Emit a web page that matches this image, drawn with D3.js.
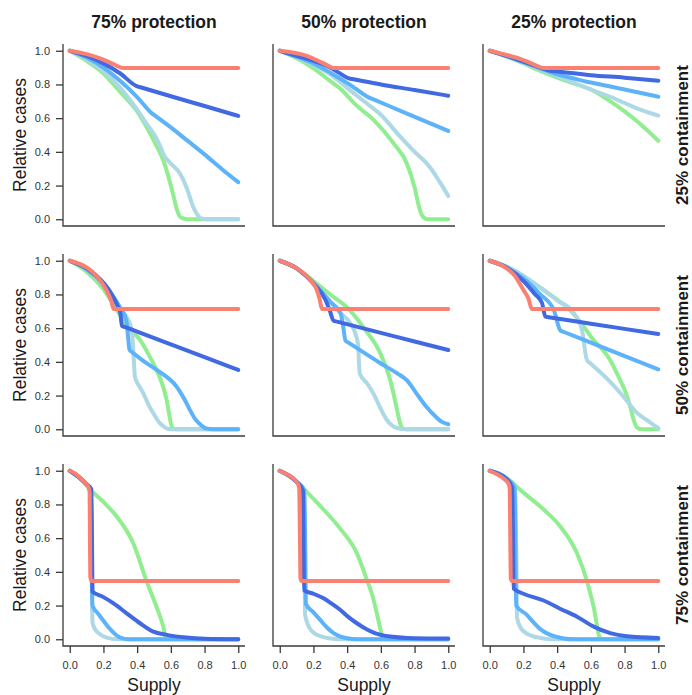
<!DOCTYPE html>
<html>
<head>
<meta charset="utf-8">
<script src="https://cdn.jsdelivr.net/npm/d3@7/dist/d3.min.js"></script>
<style>
  html, body { margin: 0; padding: 0; background: #fff; }
  svg { display: block; }
</style>
</head>
<body>
<script>
// ---------- DATA ----------
const protectionLabels = ["75% protection", "50% protection", "25% protection"];
const containmentLabels = ["25% containment", "50% containment", "75% containment"];
const seriesNames = ["green", "lightblue", "medblue", "darkblue", "red"];
const xTicks = [0, 0.2, 0.4, 0.6, 0.8, 1.0];
const yTicks = [0, 0.2, 0.4, 0.6, 0.8, 1.0];

// Row 1: 25% containment
const p75c25_green = [[0,1],[0.1,0.94],[0.2,0.865],[0.3,0.755],[0.4,0.64],[0.44,0.575],[0.5,0.465],[0.555,0.35],[0.6,0.2],[0.62,0.12],[0.64,0.045],[0.66,0.01],[0.7,0],[1,0]];
const p75c25_lightblue = [[0,1],[0.1,0.95],[0.2,0.88],[0.3,0.78],[0.4,0.65],[0.44,0.59],[0.52,0.47],[0.565,0.37],[0.6,0.33],[0.655,0.27],[0.7,0.17],[0.73,0.08],[0.755,0.03],[0.78,0.005],[0.82,0],[1,0]];
const p75c25_medblue = [[0,1],[0.1,0.96],[0.2,0.9],[0.3,0.82],[0.4,0.725],[0.486,0.63],[0.51,0.612],[0.6,0.545],[0.7,0.465],[0.8,0.385],[0.9,0.3],[1,0.22]];
const p75c25_darkblue = [[0,1],[0.1,0.97],[0.2,0.925],[0.3,0.865],[0.397,0.79],[0.43,0.7803],[0.6,0.73],[0.8,0.672],[1,0.613]];
const p75c25_red = [[0,1],[0.1,0.98],[0.18,0.955],[0.26,0.92],[0.318,0.897],[1,0.897]];

const p50c25_green = [[0,1],[0.1,0.955],[0.2,0.895],[0.3,0.82],[0.36,0.775],[0.45,0.68],[0.557,0.59],[0.676,0.45],[0.755,0.33],[0.8,0.19],[0.83,0.06],[0.85,0.015],[0.88,0],[1,0]];
const p50c25_lightblue = [[0,1],[0.1,0.96],[0.2,0.915],[0.3,0.86],[0.4,0.78],[0.5,0.7],[0.6,0.62],[0.715,0.49],[0.79,0.41],[0.89,0.31],[0.95,0.22],[1,0.138]];
const p50c25_medblue = [[0,1],[0.1,0.965],[0.2,0.925],[0.3,0.87],[0.42,0.796],[0.528,0.723],[0.56,0.7095],[0.755,0.627],[1,0.524]];
const p50c25_darkblue = [[0,1],[0.1,0.97],[0.2,0.94],[0.3,0.9],[0.35,0.87],[0.41,0.836],[0.44,0.8303],[0.6,0.8],[0.8,0.767],[1,0.733]];
const p50c25_red = [[0,1],[0.16,0.97],[0.26,0.925],[0.324,0.897],[1,0.897]];

const p25c25_green = [[0,1],[0.1,0.965],[0.2,0.925],[0.3,0.88],[0.4,0.84],[0.5,0.805],[0.6,0.77],[0.7,0.71],[0.8,0.64],[0.9,0.56],[1,0.466]];
const p25c25_lightblue = [[0,1],[0.1,0.968],[0.2,0.93],[0.3,0.89],[0.4,0.85],[0.5,0.81],[0.6,0.77],[0.715,0.727],[0.8,0.69],[0.873,0.658],[1,0.615]];
const p25c25_medblue = [[0,1],[0.1,0.968],[0.2,0.932],[0.3,0.895],[0.4,0.86],[0.5,0.835],[0.577,0.816],[0.6,0.8113],[0.8,0.77],[1,0.727]];
const p25c25_darkblue = [[0,1],[0.1,0.97],[0.2,0.935],[0.3,0.9],[0.36,0.881],[0.39,0.8777],[0.6,0.855],[0.8,0.84],[1,0.822]];
const p25c25_red = [[0,1],[0.1,0.975],[0.2,0.945],[0.27,0.915],[0.32,0.897],[1,0.897]];

// Row 2: 50% containment
const p75c50_green = [[0,1],[0.1,0.935],[0.2,0.83],[0.26,0.74],[0.3,0.675],[0.35,0.6],[0.417,0.53],[0.47,0.44],[0.516,0.35],[0.555,0.25],[0.575,0.174],[0.59,0.09],[0.6,0.035],[0.61,0.008],[0.63,0],[1,0]];
const p75c50_lightblue = [[0,1],[0.1,0.95],[0.2,0.855],[0.3,0.72],[0.368,0.59],[0.378,0.45],[0.387,0.31],[0.41,0.26],[0.437,0.213],[0.47,0.14],[0.496,0.095],[0.535,0.036],[0.57,0.008],[0.6,0],[1,0]];
const p75c50_medblue = [[0,1],[0.1,0.95],[0.2,0.86],[0.3,0.72],[0.335,0.65],[0.345,0.56],[0.355,0.47],[0.37,0.458],[0.43,0.41],[0.516,0.352],[0.634,0.253],[0.68,0.18],[0.713,0.115],[0.745,0.06],[0.773,0.03],[0.81,0.005],[0.85,0],[1,0]];
const p75c50_darkblue = [[0,1],[0.1,0.955],[0.2,0.87],[0.25,0.8],[0.28,0.74],[0.3,0.69],[0.31,0.613],[0.33,0.6054],[0.6,0.5034],[0.8,0.4278],[1,0.352]];
const p75c50_red = [[0,1],[0.1,0.96],[0.18,0.885],[0.22,0.82],[0.245,0.765],[0.262,0.713],[1,0.713]];

const p50c50_green = [[0,1],[0.1,0.955],[0.2,0.88],[0.3,0.8],[0.41,0.713],[0.5,0.6],[0.597,0.45],[0.656,0.29],[0.68,0.19],[0.696,0.115],[0.715,0.035],[0.73,0.005],[0.75,0],[1,0]];
const p50c50_lightblue = [[0,1],[0.1,0.955],[0.2,0.87],[0.3,0.76],[0.35,0.7],[0.44,0.59],[0.465,0.5],[0.47,0.4],[0.475,0.33],[0.52,0.27],[0.557,0.21],[0.6,0.12],[0.636,0.055],[0.67,0.02],[0.7,0.006],[0.75,0],[1,0]];
const p50c50_medblue = [[0,1],[0.1,0.955],[0.2,0.87],[0.3,0.755],[0.36,0.69],[0.375,0.62],[0.39,0.526],[0.41,0.513],[0.5,0.455],[0.6,0.39],[0.7,0.33],[0.755,0.29],[0.82,0.2],[0.87,0.134],[0.92,0.08],[0.96,0.045],[1,0.03]];
const p50c50_darkblue = [[0,1],[0.1,0.955],[0.2,0.865],[0.27,0.77],[0.295,0.71],[0.32,0.644],[0.34,0.6389],[0.6,0.5723],[0.8,0.5211],[1,0.47]];
const p50c50_red = [[0,1],[0.1,0.955],[0.19,0.875],[0.22,0.826],[0.237,0.77],[0.251,0.713],[1,0.713]];

const p25c50_green = [[0,1],[0.1,0.965],[0.2,0.91],[0.3,0.84],[0.4,0.77],[0.47,0.713],[0.55,0.62],[0.6,0.55],[0.715,0.41],[0.77,0.3],[0.81,0.21],[0.835,0.13],[0.854,0.055],[0.873,0.012],[0.9,0],[1,0]];
const p25c50_lightblue = [[0,1],[0.1,0.965],[0.2,0.91],[0.3,0.84],[0.4,0.765],[0.5,0.688],[0.547,0.59],[0.577,0.41],[0.6,0.3887],[0.696,0.3],[0.81,0.174],[0.87,0.1],[0.93,0.055],[1,0.006]];
const p25c50_medblue = [[0,1],[0.1,0.96],[0.2,0.895],[0.3,0.8],[0.38,0.708],[0.42,0.585],[0.44,0.5771],[0.7,0.4745],[1,0.356]];
const p25c50_darkblue = [[0,1],[0.1,0.96],[0.2,0.88],[0.27,0.8],[0.31,0.75],[0.33,0.668],[0.35,0.6649],[0.6,0.6265],[0.8,0.5958],[1,0.565]];
const p25c50_red = [[0,1],[0.1,0.955],[0.15,0.91],[0.2,0.826],[0.23,0.775],[0.25,0.713],[1,0.713]];

// Row 3: 75% containment
const p75c75_green = [[0,1],[0.05,0.965],[0.13,0.88],[0.2,0.815],[0.28,0.727],[0.377,0.57],[0.456,0.345],[0.516,0.19],[0.555,0.075],[0.57,0.01],[0.59,0],[1,0]];
const p75c75_lightblue = [[0,1],[0.05,0.965],[0.1,0.92],[0.125,0.89],[0.13,0.4],[0.135,0.1],[0.15,0.06],[0.18,0.03],[0.22,0.01],[0.28,0],[1,0]];
const p75c75_medblue = [[0,1],[0.05,0.965],[0.1,0.92],[0.125,0.89],[0.13,0.5],[0.135,0.2],[0.17,0.15],[0.2,0.11],[0.24,0.06],[0.27,0.03],[0.3,0.01],[0.35,0],[1,0]];
const p75c75_darkblue = [[0,1],[0.05,0.965],[0.1,0.92],[0.128,0.89],[0.132,0.6],[0.135,0.283],[0.2,0.25],[0.26,0.213],[0.338,0.154],[0.417,0.095],[0.496,0.045],[0.575,0.026],[0.69,0.01],[0.8,0.003],[1,0]];
const p75c75_red = [[0,1],[0.03,0.985],[0.06,0.96],[0.09,0.93],[0.11,0.905],[0.118,0.87],[0.12,0.6],[0.122,0.37],[0.13,0.345],[1,0.345]];

const p50c75_green = [[0,1],[0.1,0.935],[0.15,0.885],[0.26,0.77],[0.36,0.655],[0.458,0.51],[0.518,0.35],[0.55,0.26],[0.577,0.15],[0.595,0.07],[0.607,0.02],[0.62,0],[1,0]];
const p50c75_lightblue = [[0,1],[0.1,0.935],[0.145,0.885],[0.148,0.4],[0.15,0.15],[0.17,0.08],[0.2,0.04],[0.25,0.015],[0.3,0.004],[0.35,0],[1,0]];
const p50c75_medblue = [[0,1],[0.1,0.935],[0.145,0.885],[0.152,0.5],[0.155,0.21],[0.2,0.16],[0.24,0.115],[0.28,0.07],[0.32,0.036],[0.36,0.015],[0.4,0.006],[0.45,0],[1,0]];
const p50c75_darkblue = [[0,1],[0.05,0.975],[0.1,0.935],[0.138,0.88],[0.142,0.5],[0.145,0.29],[0.2,0.27],[0.26,0.243],[0.31,0.21],[0.36,0.174],[0.41,0.13],[0.458,0.095],[0.51,0.062],[0.557,0.04],[0.656,0.016],[0.8,0.006],[1,0.004]];
const p50c75_red = [[0,1],[0.05,0.975],[0.1,0.935],[0.115,0.9],[0.12,0.6],[0.123,0.36],[0.13,0.345],[1,0.345]];

const p25c75_green = [[0,1],[0.1,0.955],[0.2,0.87],[0.32,0.77],[0.42,0.668],[0.518,0.51],[0.577,0.345],[0.6,0.26],[0.617,0.19],[0.635,0.09],[0.646,0.03],[0.66,0.005],[0.68,0],[1,0]];
const p25c75_lightblue = [[0,1],[0.1,0.955],[0.15,0.9],[0.158,0.5],[0.162,0.13],[0.18,0.075],[0.21,0.04],[0.25,0.02],[0.3,0.008],[0.36,0],[1,0]];
const p25c75_medblue = [[0,1],[0.1,0.955],[0.148,0.9],[0.153,0.5],[0.157,0.2],[0.22,0.145],[0.26,0.1],[0.3,0.06],[0.34,0.035],[0.38,0.018],[0.44,0.005],[0.5,0],[1,0]];
const p25c75_darkblue = [[0,1],[0.1,0.95],[0.133,0.9],[0.138,0.6],[0.142,0.3],[0.2,0.27],[0.32,0.23],[0.42,0.18],[0.518,0.134],[0.617,0.075],[0.715,0.036],[0.814,0.018],[1,0.008]];
const p25c75_red = [[0,1],[0.04,0.98],[0.08,0.955],[0.11,0.925],[0.118,0.9],[0.122,0.6],[0.125,0.36],[0.135,0.345],[1,0.345]];

// ---------- ASSEMBLY ----------
const panelGrid = [
  [[p75c25_green,p75c25_lightblue,p75c25_medblue,p75c25_darkblue,p75c25_red],
   [p50c25_green,p50c25_lightblue,p50c25_medblue,p50c25_darkblue,p50c25_red],
   [p25c25_green,p25c25_lightblue,p25c25_medblue,p25c25_darkblue,p25c25_red]],
  [[p75c50_green,p75c50_lightblue,p75c50_medblue,p75c50_darkblue,p75c50_red],
   [p50c50_green,p50c50_lightblue,p50c50_medblue,p50c50_darkblue,p50c50_red],
   [p25c50_green,p25c50_lightblue,p25c50_medblue,p25c50_darkblue,p25c50_red]],
  [[p75c75_green,p75c75_lightblue,p75c75_medblue,p75c75_darkblue,p75c75_red],
   [p50c75_green,p50c75_lightblue,p50c75_medblue,p50c75_darkblue,p50c75_red],
   [p25c75_green,p25c75_lightblue,p25c75_medblue,p25c75_darkblue,p25c75_red]]
];

const colors = { green: "#90EE90", lightblue: "#ADD8E6", medblue: "#5CB3FA", darkblue: "#4169E1", red: "#FA8072" };

// ---------- LAYOUT ----------
const W = 692, H = 695;
const colLeft = [63, 273, 483];
const rowTop = [44, 254, 464];
const PW = 182, PH = 182;
const font = "'Liberation Sans', Arial, Helvetica, sans-serif";
const axisColor = "#3a3a3a";
const textColor = "#1a1a1a";

const svg = d3.select("body").append("svg").attr("width", W).attr("height", H);

const x = d3.scaleLinear().domain([-0.04, 1.04]).range([0, PW]);
const y = d3.scaleLinear().domain([-0.04, 1.04]).range([PH, 0]);
const line = d3.line().x(d => x(d[0])).y(d => y(d[1])).curve(d3.curveMonotoneX);

for (let r = 0; r < 3; r++) {
  for (let c = 0; c < 3; c++) {
    const g = svg.append("g").attr("transform", `translate(${colLeft[c]},${rowTop[r]})`);

    // data lines
    panelGrid[r][c].forEach((pts, i) => {
      g.append("path")
        .attr("d", line(pts))
        .attr("fill", "none")
        .attr("stroke", colors[seriesNames[i]])
        .attr("stroke-width", 4)
        .attr("stroke-linecap", "round")
        .attr("stroke-linejoin", "round");
    });

    // L-shaped box
    g.append("path")
      .attr("d", `M0,0V${PH}H${PW}`)
      .attr("fill", "none")
      .attr("stroke", axisColor)
      .attr("stroke-width", 1.3);

    // y axis (left column)
    if (c === 0) {
      const ya = d3.axisLeft(y).tickValues(yTicks).tickFormat(d3.format(".1f")).tickSize(7).tickPadding(6);
      const ag = g.append("g").call(ya);
      ag.select(".domain").remove();
      ag.selectAll("line").attr("stroke", axisColor).attr("stroke-width", 1.3);
      ag.selectAll("text").attr("font-family", font).attr("font-size", 11).attr("fill", "#333");
      g.append("text")
        .attr("transform", `translate(-37,${PH / 2}) rotate(-90)`)
        .attr("text-anchor", "middle")
        .attr("font-family", font).attr("font-size", 17.5).attr("fill", textColor)
        .text("Relative cases");
    }
    // x axis (bottom row)
    if (r === 2) {
      const xa = d3.axisBottom(x).tickValues(xTicks).tickFormat(d3.format(".1f")).tickSize(7).tickPadding(8);
      const ag = g.append("g").attr("transform", `translate(0,${PH})`).call(xa);
      ag.select(".domain").remove();
      ag.selectAll("line").attr("stroke", axisColor).attr("stroke-width", 1.3);
      ag.selectAll("text").attr("font-family", font).attr("font-size", 11).attr("fill", "#333");
      g.append("text")
        .attr("x", PW / 2).attr("y", PH + 45)
        .attr("text-anchor", "middle")
        .attr("font-family", font).attr("font-size", 17.5).attr("fill", textColor)
        .text("Supply");
    }
    // column titles
    if (r === 0) {
      g.append("text")
        .attr("x", PW / 2).attr("y", -16)
        .attr("text-anchor", "middle")
        .attr("font-family", font).attr("font-size", 17.5).attr("font-weight", "bold").attr("fill", textColor)
        .text(protectionLabels[c]);
    }
    // row labels
    if (c === 2) {
      g.append("text")
        .attr("transform", `translate(${688 - colLeft[2]},${PH / 2}) rotate(-90)`)
        .attr("text-anchor", "middle")
        .attr("font-family", font).attr("font-size", 17).attr("font-weight", "bold").attr("fill", textColor)
        .text(containmentLabels[r]);
    }
  }
}
</script>
</body>
</html>
